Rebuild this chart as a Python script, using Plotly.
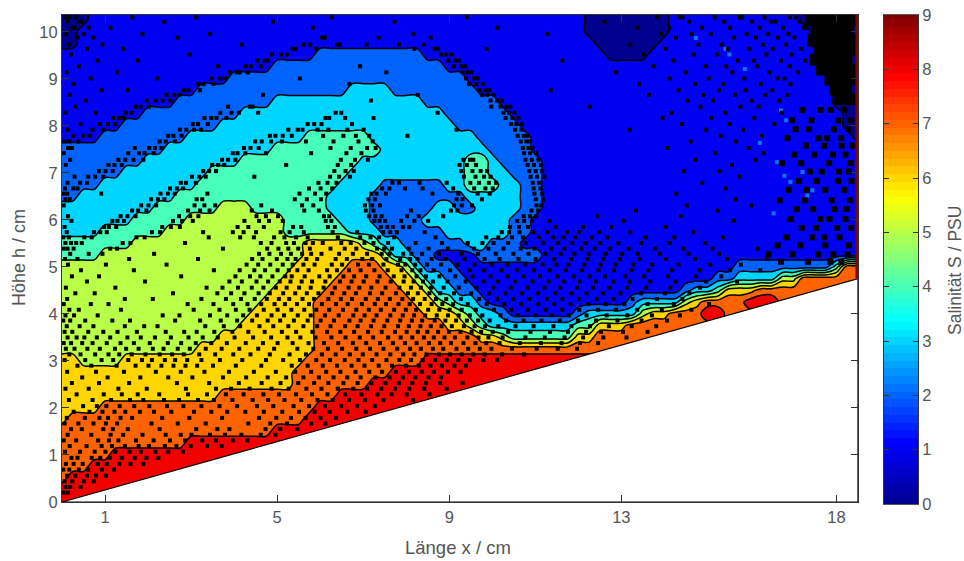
import plotly.graph_objects as go

# salinity grid; each row is "value:last column" runs (column step 0.25 cm)
length_cm = [j * 0.25 for j in range(75)]
height_cm = [10.5 - i * 0.25 for i in range(43)]
salinity_rows = [
    "0:2 1:48 0:56 1:68 0:74",
    "0:2 1:48 0:56 1:68 0:74",
    "0:1 1:48 0:56 1:69 0:74",
    "0:1 1:49 0:55 1:69 0:74",
    "1:23 2:33 1:50 0:54 1:70 0:74",
    "1:19 2:35 1:71 0:74",
    "1:15 2:37 1:71 0:74",
    "1:12 2:26 3:30 2:38 1:71 0:74",
    "1:10 2:19 3:33 2:40 1:71 0:74",
    "1:7 2:16 3:35 2:41 1:72 0:74",
    "1:5 2:14 3:36 2:42 1:72 0:74",
    "1:3 2:11 3:22 4:28 3:38 2:43 1:73 0:74",
    "2:9 3:19 4:29 3:39 2:43 1:74",
    "2:7 3:16 4:27 3:37 4:39 3:40 2:44 1:74",
    "2:5 3:13 4:26 3:37 4:39 3:41 2:44 1:74",
    "2:3 3:12 4:25 3:29 2:35 3:37 4:40 3:42 2:44 1:74",
    "2:1 3:10 4:24 3:28 2:37 3:42 2:44 1:74",
    "3:8 4:14 5:17 4:24 3:28 2:34 3:36 2:38 3:42 2:44 1:74",
    "3:6 4:11 5:20 4:25 3:28 2:33 3:41 2:43 1:74",
    "3:3 4:9 5:20 4:26 3:29 2:35 3:41 2:43 1:74",
    "4:6 5:22 6:27 5:28 4:29 3:31 2:37 3:39 2:42 1:74",
    "4:3 5:22 6:29 5:30 3:32 2:34 1:38 2:44 1:74",
    "5:21 6:26 7:29 6:31 5:32 3:33 2:36 1:62 2:71 4:72 7:74",
    "5:20 6:25 7:30 6:32 5:33 3:35 2:37 1:60 2:62 3:66 5:68 7:74",
    "5:19 6:24 7:31 6:33 5:34 3:36 2:38 1:57 2:58 3:60 4:61 6:64 7:74",
    "5:18 6:23 7:32 6:34 5:35 4:36 3:38 2:39 1:52 2:53 3:57 5:58 6:59 7:63 8:66 7:74",
    "5:17 6:23 7:33 6:36 5:37 4:38 3:40 2:41 1:47 2:48 3:53 5:54 6:56 7:59 8:61 7:74",
    "5:16 6:23 7:35 6:37 5:38 4:39 3:47 4:49 6:52 7:74",
    "5:14 6:23 7:38 6:40 5:41 4:47 6:49 7:74",
    "5:12 6:23 7:74",
    "6:1 5:5 6:22 7:33 8:74",
    "6:21 7:30 8:74",
    "6:21 7:28 8:74",
    "6:14 7:25 8:74",
    "6:3 7:23 8:74",
    "6:0 7:22 8:74",
    "7:19 8:74",
    "7:11 8:74",
    "7:4 8:74",
    "7:2 8:74",
    "7:0 8:74",
    "8:74",
    "8:74",
]
# black speckle, height -> lengths, bunched along the salinity fronts
speckle_by_height = {
    10.31: [0.07, 0.18, 0.33, 1.64, 3.12, 6.27, 9.41, 13.83, 14.36, 14.42, 15.17, 15.74, 15.81, 16.33, 16.92, 17.06, 17.51],
    10.22: [0.12, 0.41, 0.46, 2.38, 4.91, 7.73, 12.61, 14.58, 15.39, 16.04, 16.47, 16.58, 17.13, 17.38],
    10.09: [0.24, 0.29, 0.62, 1.13, 5.83, 10.12, 13.37, 14.11, 14.87, 15.53, 16.22, 16.76, 17.24, 17.29],
    9.96: [0.09, 0.51, 1.87, 3.44, 8.16, 11.28, 13.92, 14.63, 15.08, 15.91, 16.41, 16.88, 17.46],
    9.88: [0.36, 0.73, 2.69, 6.04, 6.11, 7.36, 8.57, 14.27, 15.62, 16.13, 16.64, 17.02],
    9.73: [0.16, 0.94, 4.18, 5.62, 5.77, 6.39, 6.46, 7.08, 7.83, 8.41, 13.21, 14.79, 15.33, 16.29, 16.83, 17.36],
    9.64: [0.58, 1.42, 5.36, 5.44, 5.91, 8.19, 8.66, 8.74, 9.87, 14.03, 15.48, 15.97, 16.52, 17.17],
    9.52: [0.21, 2.97, 4.88, 5.09, 5.23, 8.81, 8.93, 9.06, 13.52, 14.68, 15.22, 16.37, 16.96],
    9.39: [0.83, 1.76, 4.54, 4.71, 4.78, 8.98, 9.14, 9.22, 11.63, 14.21, 15.71, 16.08, 16.71, 17.27],
    9.27: [0.39, 3.63, 4.27, 4.39, 4.62, 6.93, 9.11, 9.28, 9.37, 13.74, 14.96, 15.44, 16.16, 16.91],
    9.14: [0.11, 1.28, 3.91, 4.06, 4.13, 4.32, 7.54, 9.31, 9.43, 9.52, 12.88, 14.49, 15.58, 16.44, 17.11],
    9.01: [0.67, 2.21, 3.47, 3.68, 3.79, 5.53, 9.39, 9.58, 9.66, 14.12, 15.03, 15.86, 16.62, 16.79],
    8.89: [0.27, 3.17, 3.29, 3.52, 6.68, 9.46, 9.63, 9.78, 13.41, 14.72, 15.37, 16.24, 16.93],
    8.76: [0.93, 1.53, 2.83, 2.94, 3.21, 9.71, 9.84, 9.93, 11.36, 14.33, 15.27, 15.89, 16.51],
    8.66: [0.19, 2.43, 2.61, 2.73, 4.67, 8.27, 9.76, 9.89, 10.04, 13.64, 14.91, 15.64, 16.34, 16.86],
    8.54: [0.56, 1.97, 2.18, 2.34, 2.52, 7.18, 9.96, 10.11, 10.23, 14.54, 15.13, 16.03, 16.67],
    8.41: [0.31, 1.72, 1.83, 2.02, 3.86, 4.37, 4.43, 9.98, 10.19, 10.33, 10.42, 12.27, 14.84, 15.77, 16.19],
    8.28: [0.08, 0.79, 1.48, 1.61, 3.68, 3.94, 4.11, 4.56, 6.36, 6.49, 8.73, 10.26, 10.39, 10.52, 14.16, 15.42, 16.73],
    8.17: [1.19, 1.33, 1.44, 3.31, 3.47, 3.59, 3.82, 6.12, 6.21, 6.58, 7.24, 10.31, 10.47, 10.61, 13.96, 15.09, 16.09],
    8.04: [0.43, 0.88, 1.07, 1.23, 3.04, 3.16, 3.39, 5.71, 5.86, 6.03, 6.74, 10.44, 10.56, 10.69, 14.41, 15.52, 16.56],
    7.92: [0.13, 0.71, 0.97, 2.74, 2.89, 3.07, 3.23, 5.26, 5.48, 5.59, 5.94, 6.19, 6.63, 7.01, 9.17, 10.53, 10.68, 13.19, 14.97, 15.83],
    7.79: [0.26, 0.49, 0.64, 2.47, 2.59, 2.78, 4.83, 4.96, 5.13, 5.34, 6.07, 6.54, 6.83, 7.14, 8.03, 10.59, 10.73, 10.81, 15.31, 16.27],
    7.67: [0.06, 0.17, 0.38, 2.27, 2.41, 2.63, 4.49, 4.64, 4.86, 5.11, 5.67, 6.31, 6.89, 7.22, 10.66, 10.79, 10.87, 14.61, 15.67],
    7.53: [0.14, 0.23, 1.69, 2.03, 2.16, 2.31, 4.23, 4.38, 4.57, 6.24, 6.71, 7.09, 7.29, 10.71, 10.84, 10.93, 14.07, 15.96],
    7.42: [0.04, 1.54, 1.79, 1.92, 2.13, 3.97, 4.08, 4.26, 4.74, 5.79, 6.61, 6.96, 10.74, 10.88, 11.02, 15.18, 16.31],
    7.28: [0.19, 1.31, 1.47, 1.66, 1.89, 3.72, 3.86, 4.03, 6.48, 6.81, 7.11, 9.33, 9.48, 9.56, 10.77, 10.92, 11.07, 14.73, 16.12],
    7.17: [0.09, 1.08, 1.22, 1.39, 3.49, 3.63, 3.77, 5.21, 6.41, 6.72, 9.24, 9.41, 9.62, 10.82, 10.97, 11.13, 15.57],
    7.04: [0.86, 1.01, 1.18, 3.28, 3.42, 3.58, 6.33, 6.59, 6.78, 9.28, 9.54, 9.73, 9.88, 10.86, 11.01, 11.16, 14.46, 15.29],
    6.92: [0.29, 0.61, 0.77, 0.96, 3.02, 3.19, 3.34, 4.47, 6.23, 6.44, 6.69, 9.34, 9.61, 9.81, 9.96, 10.89, 11.04, 11.21, 15.74],
    6.79: [0.13, 0.42, 0.58, 2.76, 2.88, 3.11, 5.96, 6.17, 6.38, 7.68, 7.83, 8.31, 8.94, 9.49, 9.69, 9.92, 10.09, 10.94, 11.09, 14.88],
    6.67: [0.07, 0.26, 0.36, 2.51, 2.67, 2.81, 5.74, 6.01, 6.28, 7.44, 7.61, 7.97, 8.38, 9.09, 9.58, 9.84, 10.01, 10.96, 11.12, 15.43],
    6.56: [0.03, 0.12, 0.91, 2.29, 2.46, 2.62, 3.38, 5.52, 5.88, 6.14, 7.19, 7.31, 7.53, 8.61, 9.21, 9.66, 9.94, 10.98, 11.16, 14.28],
    6.44: [0.08, 0.18, 2.07, 2.23, 2.38, 3.13, 3.26, 5.41, 5.69, 6.02, 7.12, 7.27, 9.17, 9.31, 9.76, 11.01, 11.18, 15.66],
    6.31: [0.04, 1.84, 2.01, 2.19, 3.08, 3.31, 3.56, 4.63, 5.58, 5.84, 7.04, 7.21, 7.39, 9.11, 9.29, 9.53, 11.03, 11.14, 14.52, 16.02],
    6.2: [1.63, 1.77, 1.96, 2.93, 3.21, 3.43, 4.41, 4.88, 5.63, 5.97, 7.06, 7.24, 8.11, 9.04, 9.19, 10.91, 11.06, 13.34, 15.24],
    6.08: [0.14, 1.36, 1.52, 1.71, 2.72, 2.98, 3.17, 4.52, 4.74, 5.02, 6.09, 6.21, 7.13, 7.28, 7.43, 8.02, 8.29, 8.86, 10.73, 10.88, 11.02, 12.44, 14.38],
    5.98: [0.22, 1.17, 1.29, 1.44, 2.58, 2.79, 3.04, 4.24, 4.58, 4.81, 5.13, 6.13, 6.26, 7.26, 7.38, 7.51, 7.88, 8.19, 8.51, 10.58, 10.74, 10.92, 11.34, 13.06, 15.61],
    5.85: [0.06, 0.98, 1.09, 1.26, 2.33, 2.53, 2.74, 4.08, 4.33, 4.69, 5.37, 5.56, 6.18, 6.34, 7.41, 7.56, 7.69, 7.92, 8.07, 10.41, 10.62, 10.83, 11.47, 12.11, 12.76, 14.03],
    5.74: [0.11, 0.74, 0.89, 1.04, 2.09, 2.28, 3.28, 3.97, 4.22, 4.51, 5.08, 5.29, 5.62, 6.29, 6.86, 7.46, 7.63, 7.78, 8.43, 10.22, 10.39, 10.63, 10.96, 11.28, 11.74, 12.02, 12.49, 13.21, 14.67],
    5.63: [0.03, 0.16, 0.52, 0.69, 1.73, 1.92, 3.41, 4.14, 4.46, 4.93, 5.17, 5.44, 5.71, 6.41, 6.93, 7.17, 7.37, 7.72, 8.68, 9.86, 10.14, 10.46, 10.71, 11.08, 11.41, 11.66, 11.93, 12.32, 12.67, 13.57, 14.23, 15.36],
    5.51: [0.08, 0.21, 0.33, 0.46, 1.41, 1.59, 2.86, 4.62, 4.87, 5.21, 5.39, 5.66, 5.83, 6.06, 6.49, 6.71, 7.03, 7.24, 7.58, 8.22, 8.83, 9.43, 9.77, 10.03, 10.37, 10.78, 11.19, 11.53, 11.86, 12.17, 12.51, 12.93, 13.46, 14.12, 14.94],
    5.39: [0.04, 0.13, 0.27, 1.12, 1.28, 3.74, 4.77, 5.03, 5.26, 5.49, 5.76, 6.24, 6.57, 6.84, 7.32, 7.49, 7.67, 8.06, 8.52, 8.97, 9.58, 9.91, 10.26, 10.66, 10.98, 11.37, 11.68, 12.07, 12.38, 12.73, 13.17, 13.78, 14.44, 15.12, 16.17],
    5.28: [0.19, 0.62, 0.94, 2.14, 4.58, 4.82, 5.09, 5.32, 5.58, 5.79, 6.03, 6.44, 6.76, 7.09, 7.43, 7.61, 7.93, 8.12, 8.37, 8.76, 9.28, 9.67, 10.08, 10.49, 10.84, 11.23, 11.59, 11.91, 12.24, 12.63, 13.02, 13.38, 13.89, 14.56, 15.27],
    5.17: [0.07, 0.36, 1.56, 3.16, 4.42, 4.66, 4.99, 5.24, 5.43, 5.68, 5.93, 6.36, 6.62, 6.98, 7.21, 7.54, 7.86, 8.09, 8.26, 8.59, 8.92, 9.36, 9.82, 10.17, 10.61, 11.01, 11.44, 11.83, 12.21, 12.58, 12.97, 13.43, 14.04, 14.71, 15.46, 16.38],
    5.05: [0.14, 1.02, 2.43, 4.29, 4.56, 4.84, 5.13, 5.36, 5.61, 5.87, 6.27, 6.51, 6.88, 7.13, 7.47, 7.81, 7.98, 8.21, 8.48, 8.81, 9.19, 9.59, 9.98, 10.34, 10.76, 11.17, 11.49, 11.77, 12.14, 12.52, 12.87, 13.28, 13.72, 14.33, 15.07, 15.78],
    4.93: [0.44, 1.67, 3.53, 4.13, 4.47, 4.72, 5.01, 5.27, 5.47, 5.73, 6.16, 6.39, 6.67, 6.94, 7.26, 7.57, 7.89, 8.14, 8.33, 8.64, 9.02, 9.47, 9.81, 10.21, 10.57, 10.97, 11.33, 11.71, 12.09, 12.47, 12.83, 13.24, 13.63, 14.18, 14.81, 15.53, 16.23],
    4.8: [0.23, 0.86, 2.77, 4.03, 4.37, 4.61, 4.89, 5.19, 5.34, 5.64, 5.98, 6.22, 6.54, 6.79, 7.07, 7.38, 7.71, 7.96, 8.24, 8.46, 8.77, 9.14, 9.54, 9.96, 10.36, 10.72, 11.11, 11.52, 11.89, 12.26, 12.62, 13.09, 13.53, 14.09, 14.74, 15.32],
    4.69: [0.58, 1.93, 3.89, 4.18, 4.52, 4.79, 5.06, 5.31, 5.57, 5.81, 6.12, 6.46, 6.73, 7.01, 7.33, 7.64, 7.94, 8.17, 8.39, 8.62, 8.96, 9.38, 9.79, 10.13, 10.53, 10.94, 11.31, 11.67, 12.04, 12.41, 12.81, 13.19, 13.67, 14.26, 14.97, 15.69],
    4.56: [0.09, 1.24, 3.36, 3.73, 4.09, 4.41, 4.68, 4.97, 5.22, 5.51, 5.78, 6.08, 6.34, 6.66, 6.91, 7.19, 7.52, 7.84, 8.11, 8.34, 8.58, 8.87, 9.22, 9.63, 10.02, 10.43, 10.82, 11.21, 11.58, 11.97, 12.34, 12.72, 13.13, 13.58, 14.14, 14.83],
    4.44: [0.31, 0.76, 2.58, 3.61, 3.93, 4.24, 4.57, 4.83, 5.14, 5.42, 5.69, 5.96, 6.28, 6.56, 6.83, 7.16, 7.44, 7.76, 8.04, 8.27, 8.54, 8.79, 9.11, 9.51, 9.93, 10.31, 10.69, 11.06, 11.46, 11.84, 12.19, 12.57, 12.98, 13.46, 14.01, 14.58],
    4.32: [0.12, 1.46, 2.11, 3.24, 3.81, 4.16, 4.48, 4.76, 5.04, 5.28, 5.59, 5.86, 6.19, 6.48, 6.74, 7.06, 7.34, 7.62, 7.91, 8.16, 8.43, 8.69, 8.93, 9.27, 9.69, 10.11, 10.48, 10.86, 11.27, 11.63, 12.01, 12.43, 12.82, 13.26, 13.83, 14.42],
    4.21: [0.04, 0.67, 1.08, 2.92, 3.52, 3.98, 4.31, 4.63, 4.94, 5.18, 5.46, 5.74, 6.04, 6.37, 6.64, 6.97, 7.27, 7.53, 7.82, 8.08, 8.32, 8.59, 8.84, 9.09, 9.43, 9.87, 10.28, 10.67, 11.07, 11.44, 11.82, 12.23, 12.64, 13.07, 13.61, 14.22, 15.04],
    4.09: [0.17, 0.39, 1.37, 3.06, 3.66, 4.04, 4.36, 4.69, 5.01, 5.33, 5.63, 5.91, 6.21, 6.53, 6.84, 7.13, 7.41, 7.72, 7.99, 8.23, 8.51, 8.77, 9.01, 9.29, 9.62, 10.04, 10.44, 10.83, 11.24, 11.62, 12.02, 12.46, 12.88, 13.37, 13.94, 14.63],
    3.97: [0.08, 0.28, 0.83, 2.34, 2.73, 3.44, 3.84, 4.21, 4.53, 4.87, 5.16, 5.48, 5.78, 6.11, 6.43, 6.77, 7.03, 7.31, 7.63, 7.92, 8.18, 8.44, 8.71, 8.97, 9.22, 9.48, 9.77, 10.19, 10.59, 11.01, 11.38, 11.78, 12.19, 12.66, 13.14, 13.71, 14.36],
    3.86: [0.03, 0.19, 0.54, 1.17, 1.58, 2.63, 3.21, 3.69, 4.07, 4.42, 4.78, 5.07, 5.39, 5.71, 6.01, 6.32, 6.68, 6.94, 7.24, 7.56, 7.86, 8.13, 8.37, 8.66, 8.91, 9.16, 9.41, 9.67, 9.94, 10.32, 10.73, 11.14, 11.57, 11.99, 12.41, 12.91, 13.47, 14.06],
    3.74: [0.11, 0.41, 0.73, 1.46, 1.91, 2.22, 3.33, 3.76, 4.14, 4.59, 4.91, 5.26, 5.61, 5.93, 6.24, 6.58, 6.87, 7.18, 7.49, 7.81, 8.06, 8.33, 8.57, 8.82, 9.06, 9.34, 9.59, 9.83, 10.14, 10.54, 10.96, 11.42, 11.84, 12.27, 12.71, 13.24, 13.81],
    3.62: [0.06, 0.24, 0.61, 0.96, 1.29, 1.74, 2.41, 2.84, 3.13, 3.54, 3.96, 4.33, 4.71, 5.11, 5.44, 5.82, 6.16, 6.47, 6.79, 7.11, 7.43, 7.74, 8.01, 8.27, 8.49, 8.74, 8.99, 9.26, 9.52, 9.74, 10.01, 10.37, 10.89, 11.34, 11.76, 12.18, 12.53, 13.04, 13.61],
    3.5: [0.13, 0.34, 0.52, 0.81, 1.12, 1.52, 1.83, 2.16, 2.53, 2.94, 3.27, 3.62, 4.01, 4.44, 4.86, 5.24, 5.54, 5.89, 6.26, 6.59, 6.92, 7.23, 7.58, 7.87, 8.14, 8.41, 8.64, 8.89, 9.13, 9.42, 9.68, 9.91, 10.24, 10.77, 11.22, 11.68, 12.11, 12.58, 13.12],
    3.38: [0.04, 0.21, 0.47, 0.71, 1.04, 1.36, 1.67, 2.04, 2.46, 2.77, 3.11, 3.47, 3.83, 4.27, 4.67, 5.01, 5.36, 5.73, 6.09, 6.42, 6.76, 7.07, 7.39, 7.69, 7.97, 8.24, 8.53, 8.79, 9.04, 9.33, 9.61, 9.86, 10.17, 10.64, 11.13, 11.61, 12.04, 12.46],
    3.26: [0.09, 0.29, 0.59, 0.88, 1.23, 1.49, 1.78, 2.11, 2.36, 2.69, 2.97, 3.34, 3.71, 4.12, 4.56, 4.93, 5.47, 5.84, 6.18, 6.51, 6.84, 7.16, 7.47, 7.79, 8.09, 8.34, 8.62, 8.86, 9.17, 9.44, 9.71, 9.98, 10.46, 11.03, 11.52, 11.97],
    3.14: [0.17, 0.43, 0.77, 1.08, 1.33, 1.62, 1.94, 2.27, 2.56, 2.83, 3.19, 3.56, 3.98, 4.38, 4.83, 5.29, 5.67, 6.04, 6.36, 6.69, 6.99, 7.31, 7.63, 7.93, 8.19, 8.47, 8.76, 9.02, 9.29, 9.56, 9.82, 10.23, 10.74],
    3.02: [0.06, 0.54, 0.92, 1.19, 1.54, 1.86, 2.09, 2.39, 2.63, 2.91, 3.24, 3.67, 4.19, 4.74, 5.14, 5.53, 5.91, 6.23, 6.57, 6.89, 7.21, 7.54, 7.84, 8.11, 8.38, 8.67, 8.94, 9.21, 9.48, 9.79, 10.11],
    2.9: [0.36, 0.68, 1.27, 1.71, 2.01, 2.31, 2.59, 2.87, 3.14, 3.51, 4.04, 4.63, 5.34, 5.71, 6.06, 6.39, 6.73, 7.03, 7.36, 7.67, 7.99, 8.29, 8.56, 8.83, 9.12, 9.39],
    2.77: [0.12, 0.79, 1.44, 2.18, 2.76, 3.31, 3.88, 4.46, 4.97, 5.42, 5.79, 6.14, 6.47, 6.82, 7.14, 7.44, 7.76, 8.06, 8.36, 8.64, 8.97, 9.26],
    2.65: [0.47, 1.06, 1.82, 2.47, 3.03, 3.74, 4.28, 4.78, 5.21, 5.61, 5.97, 6.31, 6.63, 6.94, 7.28, 7.61, 7.92, 8.21, 8.52, 8.81],
    2.53: [0.23, 0.86, 1.56, 2.67, 3.42, 4.11, 4.64, 5.08, 5.49, 5.86, 6.19, 6.54, 6.87, 7.19, 7.52, 7.83, 8.14, 8.46, 8.79, 9.31],
    2.41: [0.08, 0.62, 1.31, 1.97, 2.88, 3.58, 3.93, 4.36, 4.87, 5.27, 5.68, 6.03, 6.41, 6.77, 7.09, 7.42, 7.74, 8.07, 8.42, 8.94, 9.64],
    2.29: [0.34, 0.97, 1.39, 1.76, 2.26, 2.93, 3.37, 3.81, 4.22, 4.68, 5.04, 5.44, 5.81, 6.17, 6.58, 6.96, 7.33, 7.66, 8.01, 8.54],
    2.17: [0.16, 0.71, 1.14, 1.58, 1.89, 2.37, 2.72, 3.16, 3.53, 3.96, 4.43, 4.79, 5.17, 5.56, 5.94, 6.29, 6.67, 7.04, 7.47, 8.16],
    2.04: [0.49, 0.81, 1.03, 1.34, 1.68, 2.03, 2.44, 2.82, 3.24, 3.66, 4.07, 4.53, 4.91, 5.38, 5.74, 6.11, 6.49, 6.86, 7.27],
    1.92: [0.27, 0.64, 0.94, 1.22, 1.47, 1.81, 2.14, 2.54, 3.07, 3.47, 3.84, 4.26, 4.69, 5.12, 5.51, 5.87, 6.22, 6.63, 7.06],
    1.79: [0.11, 0.53, 0.87, 1.07, 1.36, 1.63, 2.33, 2.96, 3.72, 4.58, 4.98, 5.32, 5.66, 6.01, 6.37],
    1.67: [0.06, 0.38, 0.73, 1.02, 1.28, 2.08, 2.69, 3.34, 4.33, 4.84, 5.23, 5.79, 6.12],
    1.55: [0.21, 0.46, 0.96, 1.18, 1.53, 2.27, 3.12, 3.61, 3.89, 4.73, 5.07, 5.47],
    1.43: [0.13, 0.68, 1.13, 1.42, 1.87, 2.41, 2.76, 3.01, 3.44, 3.79, 4.17, 4.62, 4.96],
    1.31: [0.04, 0.33, 0.84, 1.09, 1.31, 1.72, 2.13, 2.51, 2.86, 3.26, 3.58, 3.97, 4.31],
    1.19: [0.18, 0.57, 0.92, 1.16, 1.46, 1.78, 2.02, 2.39, 2.66, 2.99, 3.37, 3.71],
    1.07: [0.07, 0.42, 0.76, 1.01, 1.24, 1.57, 1.83, 2.17, 2.47, 2.81],
    0.94: [0.22, 0.36, 0.69, 0.89, 1.11, 1.39, 1.69, 1.96, 2.24],
    0.81: [0.09, 0.27, 0.48, 0.83, 1.04, 1.33, 1.59, 1.89],
    0.69: [0.03, 0.17, 0.39, 0.61, 0.93, 1.21],
    0.56: [0.12, 0.31, 0.58, 0.79, 1.02],
    0.44: [0.06, 0.24, 0.51, 0.74],
    0.32: [0.08, 0.19, 0.43],
    0.2: [0.04, 0.14],
}
# solid dark patch in the upper right corner
corner_by_height = {
    10.25: [17.42, 17.68, 17.91, 18.13, 18.36],
    10.04: [17.56, 17.79, 18.04, 18.27],
    9.83: [17.47, 17.73, 17.96, 18.19, 18.38],
    9.62: [17.61, 17.84, 18.08, 18.31],
    9.41: [17.52, 17.77, 18.01, 18.23],
    9.2: [17.66, 17.91, 18.14, 18.36],
    8.99: [17.86, 18.11, 18.33],
    8.78: [17.97, 18.22],
    8.57: [18.07, 18.31],
}
# looser dark flecks down the right-hand side
right_flecks_by_height = {
    8.34: [17.63, 18.19, 17.21, 17.87],
    8.12: [17.42, 18.04, 16.97, 18.33],
    7.93: [17.36, 17.94, 18.27, 17.05],
    7.74: [17.58, 18.11, 16.86, 17.78],
    7.58: [17.71, 18.12, 17.29, 18.37],
    7.39: [17.49, 17.92, 17.02, 18.21],
    7.21: [17.18, 17.83, 18.33, 16.73],
    7.03: [17.38, 17.66, 18.06, 18.29],
    6.83: [17.54, 18.04, 17.13, 18.35],
    6.64: [16.89, 17.31, 17.74, 18.18],
    6.42: [17.27, 17.89, 18.31, 16.68],
    6.23: [17.46, 17.96, 17.08, 18.24],
    6.02: [17.62, 18.21, 16.94, 17.84],
    5.83: [17.19, 17.53, 18.02, 18.34],
    5.63: [16.84, 17.43, 18.07, 17.72],
    5.46: [16.63, 17.16, 17.74, 18.29],
    5.27: [16.42, 16.98, 17.57, 17.93, 18.26],
    5.11: [16.71, 17.34, 17.86, 18.11],
}
# azure flecks in the sparse upper right
fleck_length = [15.42, 15.51, 14.73, 16.71, 16.83, 16.62, 17.21, 16.79, 16.93, 17.32, 16.54, 17.44, 15.87, 16.22]
fleck_height = [9.64, 9.52, 9.87, 8.33, 8.12, 7.23, 7.02, 6.94, 6.81, 6.52, 6.14, 6.63, 9.21, 7.64]
bed_x = [0, 18.5, 18.5, 0]
bed_y = [0, 4.75, 0, 0]
x_ticks = [1, 5, 9, 13, 18]
y_ticks = list(range(11))
bar_ticks = list(range(10))
bar_steps = [i * 9 / 63 for i in range(64)]

JET = [[0, "rgb(0,0,143)"], [0.125, "rgb(0,0,255)"], [0.375, "rgb(0,255,255)"],
       [0.625, "rgb(255,255,0)"], [0.875, "rgb(255,0,0)"], [1, "rgb(128,0,0)"]]
FONT = "Liberation Sans"
GREY = "#555555"
W, H = 964, 561


def expand(row):
    out, start = [], 0
    for run in row.split():
        value, end = run.split(":")
        out += [int(value)] * (int(end) + 1 - start)
        start = int(end) + 1
    return out


def points(by_height):
    xs, ys = [], []
    for h, lengths in by_height.items():
        xs += lengths
        ys += [h] * len(lengths)
    return xs, ys


z = [expand(r) for r in salinity_rows]

fig = go.Figure()
fig.add_trace(go.Contour(x=length_cm, y=height_cm, z=z, colorscale=JET, zmin=0, zmax=9, showscale=False,
                         autocontour=False, contours=dict(start=0.4, end=8.4, size=1, coloring="fill"),
                         line=dict(color="black", width=1.5), hoverinfo="skip"))
fig.add_trace(go.Scatter(x=fleck_length, y=fleck_height, mode="markers", hoverinfo="skip", showlegend=False,
                         marker=dict(symbol="square", size=4, color="#0a78e8", line=dict(width=0))))
for group, size in ((speckle_by_height, 4), (right_flecks_by_height, 6), (corner_by_height, 12)):
    gx, gy = points(group)
    fig.add_trace(go.Scatter(x=gx, y=gy, mode="markers", hoverinfo="skip", showlegend=False,
                             marker=dict(symbol="square", size=size, color="black", line=dict(width=0))))
fig.add_trace(go.Scatter(x=bed_x, y=bed_y, fill="toself", fillcolor="white", mode="lines",
                         line=dict(color="black", width=1.2), hoverinfo="skip", showlegend=False))
fig.add_trace(go.Scatter(x=[18.47, 18.47], y=[4.75, 10.36], mode="lines",
                         line=dict(color="#8b0000", width=2.5), hoverinfo="skip", showlegend=False))
fig.add_trace(go.Heatmap(x=[0, 1], y=bar_steps, z=[[v, v] for v in bar_steps], colorscale=JET, zmin=0, zmax=9,
                         showscale=False, xaxis="x2", yaxis="y2", hoverinfo="skip"))

axis = dict(showgrid=False, zeroline=False, showline=True, linecolor="#333", linewidth=1, mirror="ticks",
            ticks="inside", ticklen=7, tickcolor="#333", automargin=False,
            tickfont=dict(size=16.5, color=GREY, family=FONT))
title_font = dict(size=18, color=GREY, family=FONT)
fig.update_layout(
    width=W, height=H, margin=dict(l=0, r=0, t=0, b=0), paper_bgcolor="white", plot_bgcolor="white",
    showlegend=False, font=dict(family=FONT, color=GREY, size=16),
    xaxis=dict(axis, domain=[62 / W, 858 / W], range=[0, 18.5], tickvals=x_ticks),
    yaxis=dict(axis, domain=[1 - 502 / H, 1 - 15 / H], range=[0, 10.36], tickvals=y_ticks),
    xaxis2=dict(domain=[884 / W, 918 / W], range=[0, 1], anchor="y2", showticklabels=False, ticks="",
                showgrid=False, zeroline=False, showline=True, linecolor="#555", mirror=True, automargin=False),
    yaxis2=dict(axis, domain=[1 - 504 / H, 1 - 15 / H], range=[0, 9], anchor="x2", side="right",
                tickvals=bar_ticks, ticklen=5),
    annotations=[
        dict(text="Länge x / cm", x=458 / W, y=1 - 547 / H, xref="paper", yref="paper", showarrow=False,
             xanchor="center", yanchor="middle", font=dict(title_font, size=18.5)),
        dict(text="Höhe h / cm", x=19 / W, y=1 - 258 / H, xref="paper", yref="paper", textangle=-90,
             xanchor="center", yanchor="middle", showarrow=False, font=title_font),
        dict(text="Salinität S / PSU", x=955 / W, y=1 - 271 / H, xref="paper", yref="paper", textangle=-90,
             xanchor="center", yanchor="middle", showarrow=False, font=dict(title_font, size=17.5)),
    ],
)
fig.write_html("out.html", config=dict(displayModeBar=False), post_script="document.body.style.margin='0';")
